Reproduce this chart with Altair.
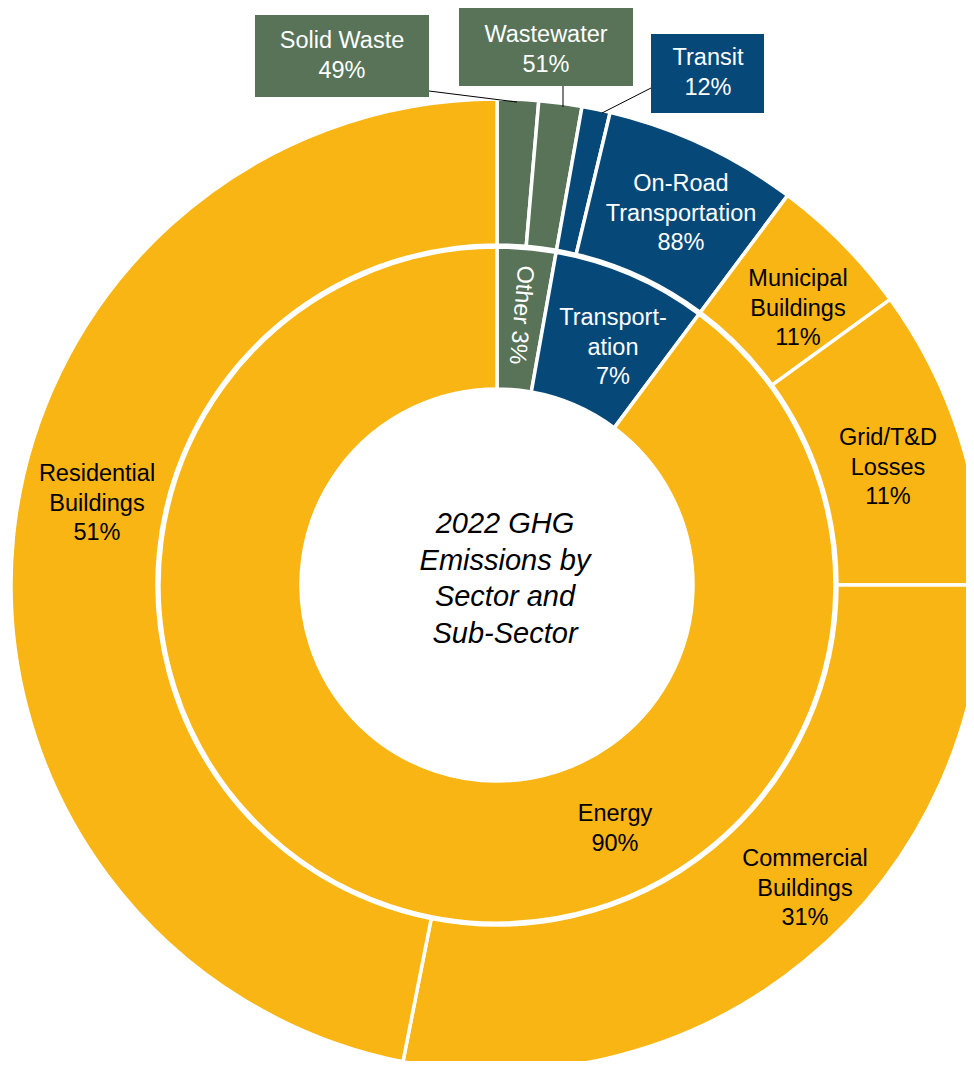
import altair as alt
import pandas as pd

# ---------------- data (shares of total emissions, %) -------------
sectors = ["Other", "Transportation", "Energy"]
sector_share = [2.8, 7.4, 89.8]
sector_labels = [["Other 3%"], ["Transport-", "ation", "7%"], ["Energy", "90%"]]

sub_sectors = ["Solid Waste", "Wastewater", "Transit", "On-Road Transportation",
               "Municipal Buildings", "Grid/T&D Losses", "Commercial Buildings",
               "Residential Buildings"]
sub_parent = ["Other", "Other", "Transportation", "Transportation",
              "Energy", "Energy", "Energy", "Energy"]
sub_share = [1.37, 1.43, 0.94, 6.46, 4.8, 10.0, 28.1, 46.9]
sub_labels = [["Solid Waste", "49%"], ["Wastewater", "51%"], ["Transit", "12%"],
              ["On-Road", "Transportation", "88%"], ["Municipal", "Buildings", "11%"],
              ["Grid/T&D", "Losses", "11%"], ["Commercial", "Buildings", "31%"],
              ["Residential", "Buildings", "51%"]]

title_lines = ["2022 GHG", "Emissions by", "Sector and", "Sub-Sector"]

sector_colors = ["#587357", "#064979", "#F8B513"]

# ---------------- layout (page pixels; page margin is 8) -------------------------------
OFF = 8
CX, CY = 497 - OFF, 585 - OFF
FONT = "Liberation Sans"
FS = 23.5

inner_df = pd.DataFrame({"name": sectors, "sector": sectors, "share": sector_share,
                         "idx": list(range(len(sectors)))})
outer_df = pd.DataFrame({"name": sub_sectors, "sector": sub_parent, "share": sub_share,
                         "idx": list(range(len(sub_sectors)))})

color = alt.Color("sector:N", scale=alt.Scale(domain=sectors, range=sector_colors), legend=None)

inner = alt.Chart(inner_df).mark_arc(
    x=CX, y=CY, radius=338, radius2=196, stroke="white", strokeWidth=3.5
).encode(
    theta=alt.Theta("share:Q", stack=True),
    order=alt.Order("idx:Q"),
    color=color,
)

outer = alt.Chart(outer_df).mark_arc(
    x=CX, y=CY, radius=486, radius2=340, stroke="white", strokeWidth=3.5
).encode(
    theta=alt.Theta("share:Q", stack=True),
    order=alt.Order("idx:Q"),
    color=color,
)

# callout boxes for the thin slices
box_pos = {  # name: (x1, x2, y1, y2) in page px
    "Solid Waste": (255, 429, 15, 97),
    "Wastewater": (459, 633, 8, 86),
    "Transit": (651, 764, 34, 113),
}
box_rows = []
for name, (x1, x2, y1, y2) in box_pos.items():
    box_rows.append({"name": name, "sector": sub_parent[sub_sectors.index(name)],
                     "x1": x1 - OFF, "x2": x2 - OFF, "y1": y1 - OFF, "y2": y2 - OFF})
boxes = alt.Chart(pd.DataFrame(box_rows)).mark_rect().encode(
    x=alt.X("x1:Q", scale=None), x2="x2:Q",
    y=alt.Y("y1:Q", scale=None), y2="y2:Q",
    color=color,
)

leader_pos = [  # (x1, y1, x2, y2) page px
    (429, 91, 517, 102),
    (563, 86, 563, 107),
    (651, 88, 602, 113),
]
leaders = alt.Chart(pd.DataFrame(
    [{"x1": a - OFF, "y1": b - OFF, "x2": c - OFF, "y2": d - OFF} for a, b, c, d in leader_pos]
)).mark_rule(color="black", strokeWidth=1).encode(
    x=alt.X("x1:Q", scale=None), y=alt.Y("y1:Q", scale=None), x2="x2:Q", y2="y2:Q"
)

# label placement (page px: centre x, first-line y)
label_pos = {
    "Solid Waste": (342, 41, "white"),
    "Wastewater": (546, 35, "white"),
    "Transit": (708, 58, "white"),
    "On-Road Transportation": (681, 184, "white"),
    "Municipal Buildings": (798, 279, "black"),
    "Grid/T&D Losses": (888, 438, "black"),
    "Commercial Buildings": (805, 859, "black"),
    "Residential Buildings": (97, 474, "black"),
    "Transportation": (613, 318, "white"),
    "Energy": (615, 814, "black"),
}
lab_rows = []
for name, (x, y, c) in label_pos.items():
    if name in sub_sectors:
        txt = sub_labels[sub_sectors.index(name)]
    else:
        txt = sector_labels[sectors.index(name)]
    lab_rows.append({"x": x - OFF, "y": y - OFF, "txt": txt, "tc": c})
labels = alt.Chart(pd.DataFrame(lab_rows)).mark_text(
    font=FONT, fontSize=FS, lineHeight=29.5, align="center", baseline="middle"
).encode(
    x=alt.X("x:Q", scale=None), y=alt.Y("y:Q", scale=None),
    text="txt", color=alt.Color("tc:N", scale=None),
)

other_label = alt.Chart(pd.DataFrame({"x": [521 - OFF], "y": [315 - OFF],
                                      "txt": sector_labels[0]})).mark_text(
    font=FONT, fontSize=FS, align="center", baseline="middle", angle=95, color="white"
).encode(x=alt.X("x:Q", scale=None), y=alt.Y("y:Q", scale=None), text="txt:N")

title = alt.Chart(pd.DataFrame({"x": [505 - OFF], "y": [524 - OFF], "txt": [title_lines]})).mark_text(
    font=FONT, fontSize=29, fontStyle="italic", lineHeight=36.7, align="center",
    baseline="middle", color="black"
).encode(x=alt.X("x:Q", scale=None), y=alt.Y("y:Q", scale=None), text="txt")

chart = alt.layer(outer, inner, boxes, leaders, labels, other_label, title).properties(
    width=958, height=1053, padding=0, autosize=alt.AutoSizeParams(type="none")
).configure_view(stroke=None)

chart.save("out.html", embed_options={"renderer": "svg", "actions": False})
